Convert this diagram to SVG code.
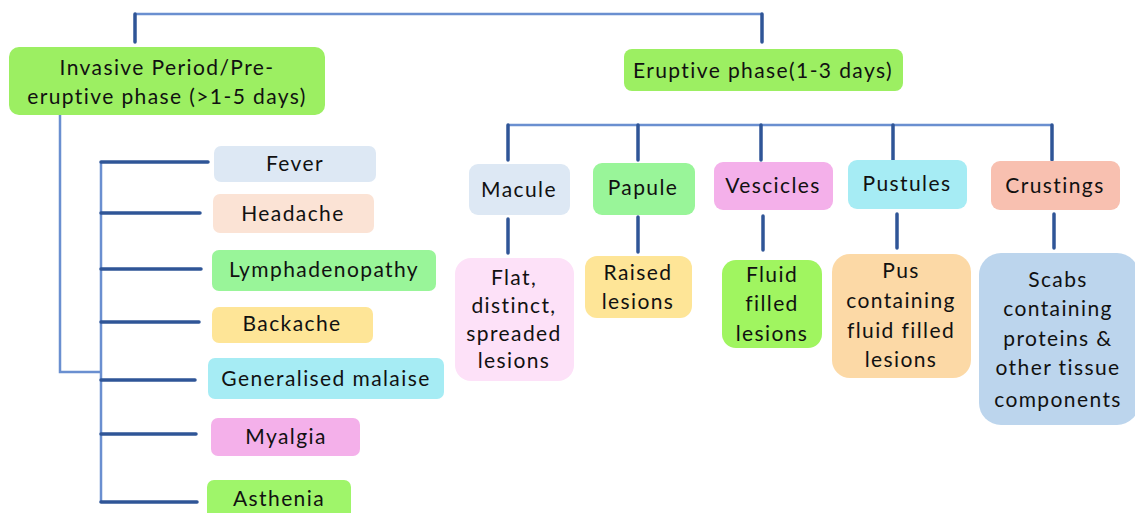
<svg xmlns="http://www.w3.org/2000/svg" width="1135" height="513" viewBox="0 0 1135 513">
<defs>
<style>
.t{font-family:Lato,"Open Sans",sans-serif;font-size:21px;fill:#111;text-anchor:middle;letter-spacing:1.4px}
.ln{stroke:#6a8fd0;stroke-width:2.5;fill:none}
.ar{stroke:#2f5597;stroke-width:3.5;fill:none;stroke-linecap:round}
</style>
</defs>
<rect width="1135" height="513" fill="#fff"/>
<g id="connectors">
<path class="ln" d="M135,14 H762"/>
<path class="ar" d="M135,14 V42"/>
<path class="ar" d="M762,14 V42"/>
<path class="ln" d="M60,115 V372 H101"/>
<path class="ln" d="M101,162 V503"/>
<path class="ar" d="M101,162 H208"/>
<path class="ar" d="M101,213 H200"/>
<path class="ar" d="M101,269 H201"/>
<path class="ar" d="M101,322 H199"/>
<path class="ar" d="M101,380 H195"/>
<path class="ar" d="M101,434 H196"/>
<path class="ar" d="M101,502 H197"/>
<path class="ln" d="M508,125 H1052"/>
<path class="ar" d="M508,125 V160"/>
<path class="ar" d="M638,125 V160"/>
<path class="ar" d="M761,125 V160"/>
<path class="ar" d="M893,125 V160"/>
<path class="ar" d="M1052,125 V160"/>
<path class="ar" d="M508,219 V253"/>
<path class="ar" d="M638,217 V252"/>
<path class="ar" d="M763,216 V250"/>
<path class="ar" d="M897,214 V248"/>
<path class="ar" d="M1054,214 V248"/>
</g>
<g id="invasive"><rect x="9" y="47" width="316" height="68" rx="10" fill="#9cef62"/><text class="t" x="167" y="75">Invasive Period/Pre-</text><text class="t" x="167" y="104">eruptive phase (&gt;1-5 days)</text></g>
<g id="eruptive"><rect x="624" y="49" width="279" height="42" rx="8" fill="#9cef62"/><text class="t" x="763" y="78">Eruptive phase(1-3 days)</text></g>
<g id="fever"><rect x="214" y="146" width="162" height="36" rx="7" fill="#dde8f4"/><text class="t" x="295" y="171">Fever</text></g>
<g id="headache"><rect x="213" y="194" width="161" height="39" rx="7" fill="#fbe3d5"/><text class="t" x="293" y="221">Headache</text></g>
<g id="lymph"><rect x="212" y="250" width="224" height="41" rx="7" fill="#99f599"/><text class="t" x="324" y="277">Lymphadenopathy</text></g>
<g id="backache"><rect x="212" y="307" width="161" height="36" rx="7" fill="#fee597"/><text class="t" x="292" y="331">Backache</text></g>
<g id="malaise"><rect x="208" y="358" width="236" height="41" rx="7" fill="#a6ecf4"/><text class="t" x="326" y="386">Generalised malaise</text></g>
<g id="myalgia"><rect x="211" y="418" width="149" height="38" rx="7" fill="#f4b0ea"/><text class="t" x="286" y="444">Myalgia</text></g>
<g id="asthenia"><rect x="207" y="480" width="144" height="40" rx="7" fill="#9ff56a"/><text class="t" x="279" y="506">Asthenia</text></g>
<g id="macule"><rect x="469" y="164" width="101" height="51" rx="9" fill="#dde8f4"/><text class="t" x="519" y="197">Macule</text></g>
<g id="papule"><rect x="593" y="163" width="102" height="52" rx="9" fill="#99f599"/><text class="t" x="643" y="195">Papule</text></g>
<g id="vescicles"><rect x="714" y="162" width="119" height="48" rx="9" fill="#f4b0ea"/><text class="t" x="773" y="193">Vescicles</text></g>
<g id="pustules"><rect x="848" y="160" width="119" height="49" rx="9" fill="#a6ecf4"/><text class="t" x="907" y="191">Pustules</text></g>
<g id="crustings"><rect x="991" y="161" width="129" height="49" rx="9" fill="#f8c0b0"/><text class="t" x="1055" y="193">Crustings</text></g>
<g id="flat"><rect x="455" y="258" width="119" height="123" rx="16" fill="#fde1f8"/><text class="t" x="514" y="285">Flat,</text><text class="t" x="514" y="313">distinct,</text><text class="t" x="514" y="341">spreaded</text><text class="t" x="514" y="368">lesions</text></g>
<g id="raised"><rect x="585" y="256" width="107" height="62" rx="12" fill="#fee597"/><text class="t" x="638" y="280">Raised</text><text class="t" x="638" y="309">lesions</text></g>
<g id="fluid"><rect x="722" y="260" width="100" height="88" rx="14" fill="#a0f560"/><text class="t" x="772" y="282">Fluid</text><text class="t" x="772" y="311">filled</text><text class="t" x="772" y="341">lesions</text></g>
<g id="pus"><rect x="832" y="254" width="139" height="124" rx="18" fill="#fcd9a6"/><text class="t" x="901" y="278">Pus</text><text class="t" x="901" y="308">containing</text><text class="t" x="901" y="338">fluid filled</text><text class="t" x="901" y="367">lesions</text></g>
<g id="scabs"><rect x="979" y="253" width="160" height="172" rx="22" fill="#bcd5ed"/><text class="t" x="1058" y="287">Scabs</text><text class="t" x="1058" y="316">containing</text><text class="t" x="1058" y="346">proteins &amp;</text><text class="t" x="1058" y="375">other tissue</text><text class="t" x="1058" y="407">components</text></g>
</svg>
